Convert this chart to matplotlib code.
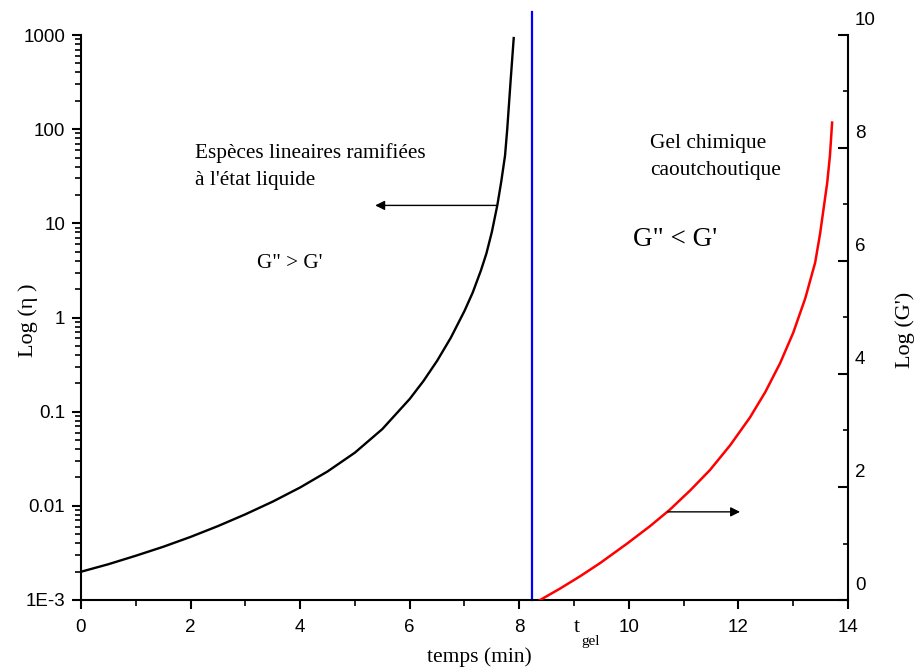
import matplotlib.pyplot as plt
from matplotlib.ticker import FixedLocator, MultipleLocator, LogLocator, NullFormatter
from matplotlib.transforms import ScaledTranslation

# viscosity (left, log scale) before the gel point
t_visc = [0.0, 0.5, 1.0, 1.5, 2.0, 2.5, 3.0, 3.5, 4.0, 4.5, 5.0,
          5.5, 6.0, 6.25, 6.5, 6.75, 7.0, 7.15, 7.3, 7.4, 7.5, 7.6,
          7.67, 7.74, 7.78, 7.84, 7.90]
log_eta = [-2.70, -2.62, -2.53, -2.435, -2.33, -2.215, -2.09, -1.955, -1.805, -1.635,
           -1.435, -1.185, -0.865, -0.675, -0.46, -0.215, 0.07, 0.265, 0.50, 0.68,
           0.91, 1.195, 1.44, 1.72, 2.0, 2.5, 2.98]
eta = [10 ** v for v in log_eta]

# elastic modulus (right axis) after the gel point
t_mod = [8.38, 8.74, 9.11, 9.47, 9.97, 10.39, 10.75, 11.12, 11.48, 11.85,
         12.21, 12.49, 12.76, 13.00, 13.22, 13.40, 13.49, 13.62, 13.67, 13.71]
log_g = [0.00, 0.20, 0.42, 0.65, 1.00, 1.31, 1.60, 1.94, 2.30, 2.74,
         3.23, 3.68, 4.19, 4.73, 5.34, 5.97, 6.48, 7.38, 7.86, 8.45]

t_gel = 8.23

eta_ticks = [1e-3, 1e-2, 1e-1, 1, 10, 100, 1000]
eta_labels = ['1E-3', '0.01', '0.1', '1', '10', '100', '1000']
g_ticks = [0, 2, 4, 6, 8, 10]

SERIF = 'Liberation Serif'
SANS = 'Liberation Sans'

fig = plt.figure(figsize=(9.2, 6.68), dpi=100)
ax = fig.add_axes([81 / 920, 1 - 600 / 668, 767 / 920, 565 / 668])
ax2 = ax.twinx()

ax.plot(t_visc, eta, color='black', lw=1.7, solid_capstyle='butt')
ax.axvline(t_gel, ymin=0, ymax=1.04, color='#0000ff', lw=1.6, clip_on=False)
ax2.plot(t_mod, log_g, color='#ff0000', lw=1.8)

ax.set_yscale('log')
ax.set_xlim(0, 14)
ax.set_ylim(1e-3, 1e3)
ax2.set_ylim(0, 10)

for a in (ax, ax2):
    a.spines['top'].set_visible(False)
    for s in a.spines.values():
        s.set_linewidth(1.5)
ax.spines['right'].set_visible(False)
ax2.spines['left'].set_visible(False)
ax2.spines['bottom'].set_visible(False)

ax.xaxis.set_major_locator(MultipleLocator(2))
ax.xaxis.set_minor_locator(MultipleLocator(1))
ax.yaxis.set_major_locator(FixedLocator(eta_ticks))
ax.set_yticklabels(eta_labels)
ax.yaxis.set_minor_locator(LogLocator(base=10, subs=range(2, 10)))
ax.yaxis.set_minor_formatter(NullFormatter())
ax.tick_params(which='major', direction='out', length=6.5, width=1.5, labelsize=13.5, pad=5)
ax.tick_params(which='minor', direction='out', length=4, width=1.2)
ax.tick_params(axis='x', which='major', pad=7)

ax2.set_yticks(g_ticks)
ax2.yaxis.set_minor_locator(MultipleLocator(1))
ax2.tick_params(which='major', direction='in', length=7, width=1.5, labelsize=13.5, pad=5)
ax2.tick_params(which='minor', direction='in', length=3.5, width=1.2)

for lab in ax.get_xticklabels() + ax.get_yticklabels() + ax2.get_yticklabels():
    lab.set_fontfamily(SANS)
# right-hand numbers sit a little above their ticks
shift = ScaledTranslation(0, 16 / 100, fig.dpi_scale_trans)
for lab in ax2.get_yticklabels():
    lab.set_transform(lab.get_transform() + shift)

# axis titles
ax.text(-0.069, 0.496, 'Log (η )', transform=ax.transAxes, rotation=90,
        ha='center', va='center', family=SERIF, fontsize=16)
ax.text(1.074, 0.478, "Log (G')", transform=ax.transAxes, rotation=90,
        ha='center', va='center', family=SERIF, fontsize=16)
ax.text(0.52, -0.101, 'temps (min)', transform=ax.transAxes,
        ha='center', va='center', family=SERIF, fontsize=15.5)
fig.text(577 / 920, 1 - 628 / 668, 't', ha='center', va='center', family=SERIF, fontsize=16)
fig.text(591 / 920, 1 - 642 / 668, 'gel', ha='center', va='center', family=SERIF, fontsize=11)

# annotations
ax.text((195 - 81) / 767, (600 - 143) / 565,
        'Espèces lineaires ramifiées\nà l\'état liquide', transform=ax.transAxes,
        ha='left', va='top', family=SERIF, fontsize=15.3, linespacing=1.6)
ax.text((257 - 81) / 767, (600 - 264) / 565, 'G" > G\'', transform=ax.transAxes,
        ha='left', va='center', family=SERIF, fontsize=15.2)
ax.text((650 - 81) / 767, (600 - 134) / 565, 'Gel chimique\ncaoutchoutique',
        transform=ax.transAxes, ha='left', va='top', family=SERIF, fontsize=15.4,
        linespacing=1.55)
ax.text((633 - 81) / 767, (600 - 240) / 565, 'G" < G\'', transform=ax.transAxes,
        ha='left', va='center', family=SERIF, fontsize=19.5)

arrow = dict(arrowstyle='-|>', color='black', lw=1.0, mutation_scale=14,
             shrinkA=0, shrinkB=0)
ax.annotate('', xy=(5.37, 15.5), xytext=(7.59, 15.5), arrowprops=arrow)
ax2.annotate('', xy=(12.03, 1.56), xytext=(10.71, 1.56), arrowprops=arrow)

fig.savefig('out.png', dpi=100)
